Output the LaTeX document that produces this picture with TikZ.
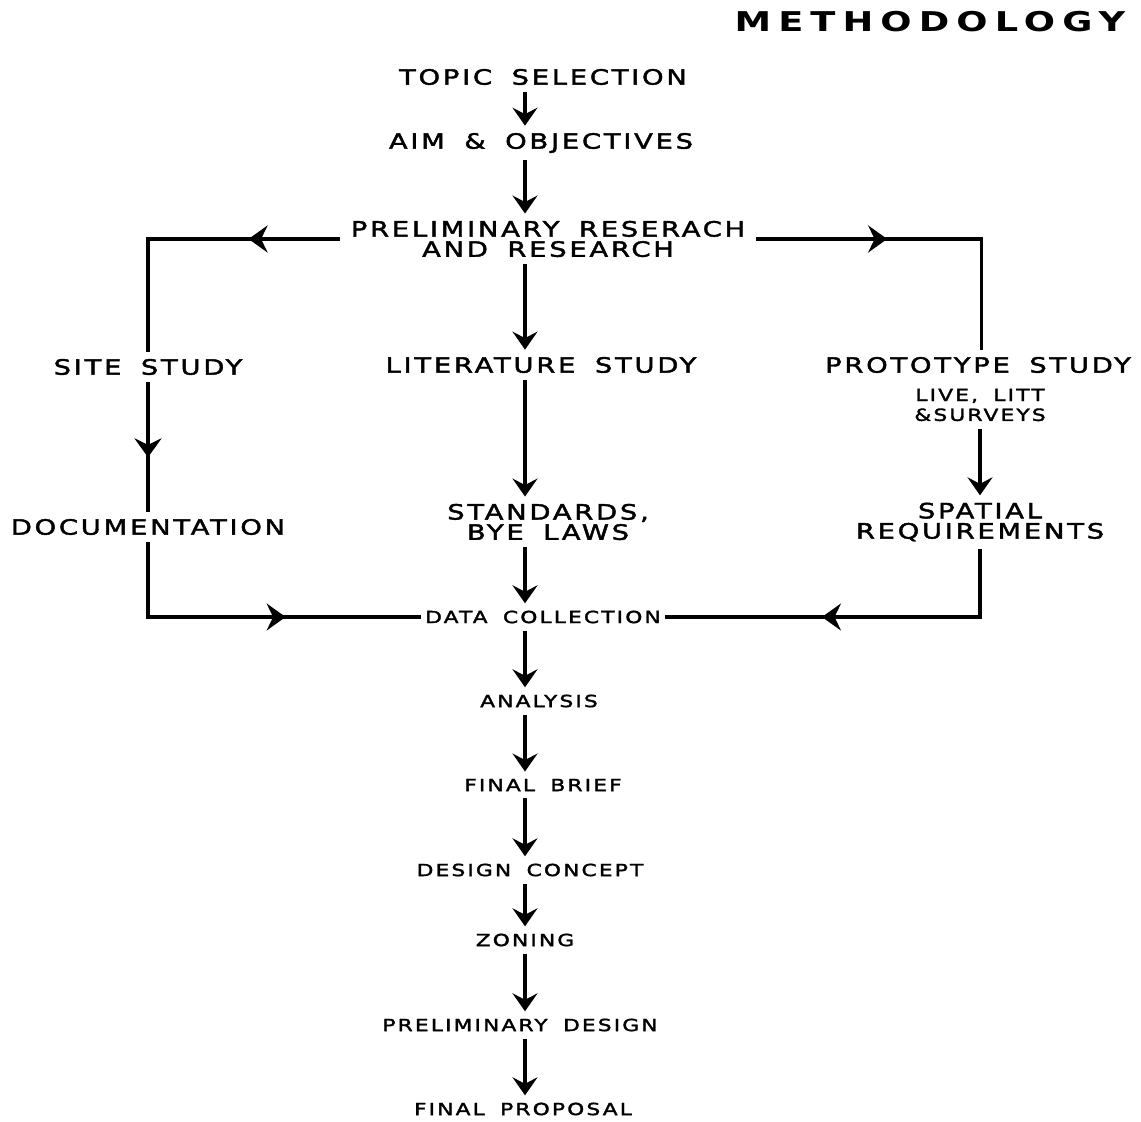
\documentclass[tikz,border=0pt]{standalone}
\usepackage{fontspec}
\newfontfamily\stagefont[FakeStretch=1.3,LetterSpace=13,FakeBold=2,WordSpace=1.7]{DejaVu Sans}
\newfontfamily\headfont[FakeStretch=1.35,LetterSpace=26,WordSpace=1.7]{DejaVu Sans Bold}
\usetikzlibrary{arrows.meta,decorations.markings}

\begin{document}
\begin{tikzpicture}[x=0.02cm,y=-0.02cm,
  stage/.style={font=\stagefont\fontsize{12}{11.5}\selectfont,align=center,inner xsep=2pt,inner ysep=4pt},
  note/.style={font=\stagefont\fontsize{9.5}{11.3}\selectfont,align=center,inner xsep=2pt,inner ysep=4pt},
  line/.style={line width=2pt},
  flow/.style={line,-{Stealth[length=0.36cm,width=0.5cm,inset=0.13cm]}},
  midarrow/.style={line,postaction={decorate,decoration={markings,
      mark=at position #1 with {\arrow{Stealth[length=0.38cm,width=0.54cm,inset=0.13cm]}}}}}]
  \useasboundingbox (0,0) rectangle (1141,1121);
  \coordinate (axis) at (525,0);
  \node (title) at (930,22) {\headfont\fontsize{15.5}{18}\selectfont METHODOLOGY};
  \node[stage] (topic) at (543,77) {TOPIC SELECTION};
  \node[stage] (aim) at (541,143) {AIM \& OBJECTIVES};
  \node[stage,inner xsep=6pt] (prelim) at (548,239) {PRELIMINARY RESERACH\\AND RESEARCH};
  \node[stage] (site) at (148,367) {SITE STUDY};
  \node[stage] (lit) at (541,365) {LITERATURE STUDY};
  \node[stage] (proto) at (978,365) {PROTOTYPE STUDY};
  \node[note] (live) at (980,405) {LIVE, LITT\\\&SURVEYS};
  \node[stage] (doc) at (148,527) {DOCUMENTATION};
  \node[stage] (std) at (548,522) {STANDARDS,\\BYE LAWS};
  \node[stage] (spatial) at (980,522) {SPATIAL\\REQUIREMENTS};
  \node[note] (data) at (543,617) {DATA COLLECTION};
  \node[note] (analysis) at (539,701) {ANALYSIS};
  \node[note] (brief) at (543,785) {FINAL BRIEF};
  \node[note] (concept) at (530,870) {DESIGN CONCEPT};
  \node[note] (zoning) at (525,940) {ZONING};
  \node[note] (pdesign) at (520,1025) {PRELIMINARY DESIGN};
  \node[note] (proposal) at (523,1109) {FINAL PROPOSAL};

  \draw[flow] (topic.south -| axis) -- (aim.north -| axis);
  \draw[flow] (aim.south -| axis) -- (prelim.north -| axis);
  \draw[flow] (prelim.south -| axis) -- (lit.north -| axis);
  \draw[flow] (lit.south -| axis) -- (std.north -| axis);
  \draw[flow] (std.south -| axis) -- (data.north -| axis);
  \draw[flow] (data.south -| axis) -- (analysis.north -| axis);
  \draw[flow] (analysis.south -| axis) -- (brief.north -| axis);
  \draw[flow] (brief.south -| axis) -- (concept.north -| axis);
  \draw[flow] (concept.south -| axis) -- (zoning.north -| axis);
  \draw[flow] (zoning.south -| axis) -- (pdesign.north -| axis);
  \draw[flow] (pdesign.south -| axis) -- (proposal.north -| axis);

  \draw[midarrow=0.30] (prelim.west) -| (site.north);
  \draw[midarrow=0.39] (prelim.east) -| ([xshift=2] proto.north);
  \draw[midarrow=0.58] (site.south) -- (doc.north);
  \draw[flow] (live.south) -- (spatial.north);
  \draw[midarrow=0.61] (doc.south) |- (data.west);
  \draw[midarrow=0.59] (spatial.south) |- (data.east);
\end{tikzpicture}
\end{document}
